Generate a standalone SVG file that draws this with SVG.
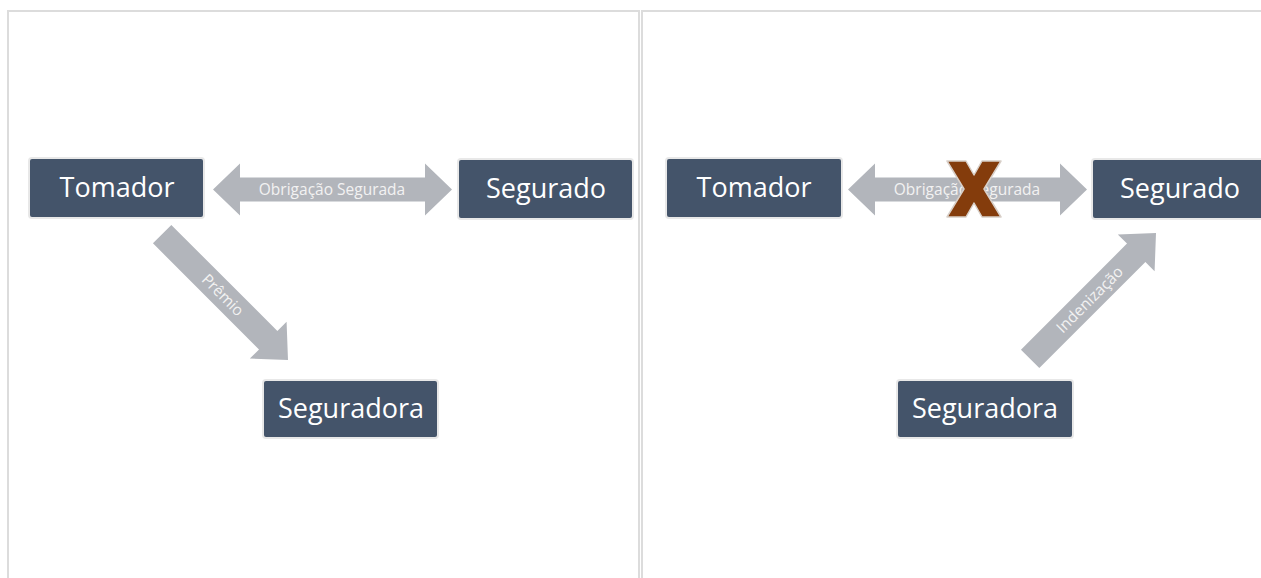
<svg xmlns="http://www.w3.org/2000/svg" width="1261" height="578" viewBox="0 0 1261 578">
<style>
.panel{fill:#ffffff;stroke:#dcdcdc;stroke-width:2}
.box{fill:#44546A;stroke:#e8e8e8;stroke-width:2}
.lbl{font-family:"Open Sans","Noto Sans",sans-serif;font-size:27px;fill:#ffffff;text-anchor:middle}
.arrow{fill:#B2B5BB}
.alb{font-family:"Open Sans","Noto Sans",sans-serif;font-size:15.5px;fill:#f2f2f2;text-anchor:middle}
</style>
<defs>
<polygon id="dbl" points="0,0 27,-26 27,-12 212,-12 212,-26 239,0 212,26 212,12 27,12 27,26"/>
<polygon id="single" points="-178,-13 -28,-13 -28,-26 0,0 -28,26 -28,13 -178,13"/>
</defs>
<rect width="1261" height="578" fill="#ffffff"/>
<g id="panels">
<rect class="panel" x="8" y="11" width="631" height="600"/>
<rect class="panel" x="642" y="11" width="640" height="600"/>
</g>
<g id="connectors">
<g id="left-obrigacao">
<use href="#dbl" class="arrow" transform="translate(213,189.5)"/>
<text class="alb" x="332" y="195">Obrigação Segurada</text>
</g>
<g id="left-premio" transform="translate(288,360) rotate(45)">
<use href="#single" class="arrow"/>
<text class="alb" x="-92" y="5.5">Prêmio</text>
</g>
<g id="right-obrigacao">
<use href="#dbl" class="arrow" transform="translate(848,189.5)"/>
<text class="alb" x="967" y="195">Obrigação Segurada</text>
</g>
<g id="right-indenizacao" transform="translate(1156,233) rotate(-45)">
<use href="#single" class="arrow"/>
<text class="alb" x="-94" y="5.5">Indenização</text>
</g>
<g id="cross">
<polygon points="947,161 966,161 974,175 982,161 1001,161 984,189 1001,217 982,217 974,203 966,217 947,217 964,189" fill="#843C0C" stroke="#d8cfc8" stroke-width="1.5" stroke-linejoin="round"/>
</g>
</g>
<g id="left-tomador">
<rect class="box" x="29" y="158" width="175" height="60" rx="3"/>
<text class="lbl" x="117" y="197">Tomador</text>
</g>
<g id="left-segurado">
<rect class="box" x="458" y="159" width="175" height="60" rx="3"/>
<text class="lbl" x="546" y="198">Segurado</text>
</g>
<g id="left-seguradora">
<rect class="box" x="263" y="380" width="175" height="58" rx="3"/>
<text class="lbl" x="351" y="418">Seguradora</text>
</g>
<g id="right-tomador">
<rect class="box" x="666" y="158" width="176" height="60" rx="3"/>
<text class="lbl" x="754" y="197">Tomador</text>
</g>
<g id="right-segurado">
<rect class="box" x="1092" y="159" width="175" height="60" rx="3"/>
<text class="lbl" x="1180" y="198">Segurado</text>
</g>
<g id="right-seguradora">
<rect class="box" x="897" y="380" width="176" height="58" rx="3"/>
<text class="lbl" x="985" y="418">Seguradora</text>
</g>
</svg>
